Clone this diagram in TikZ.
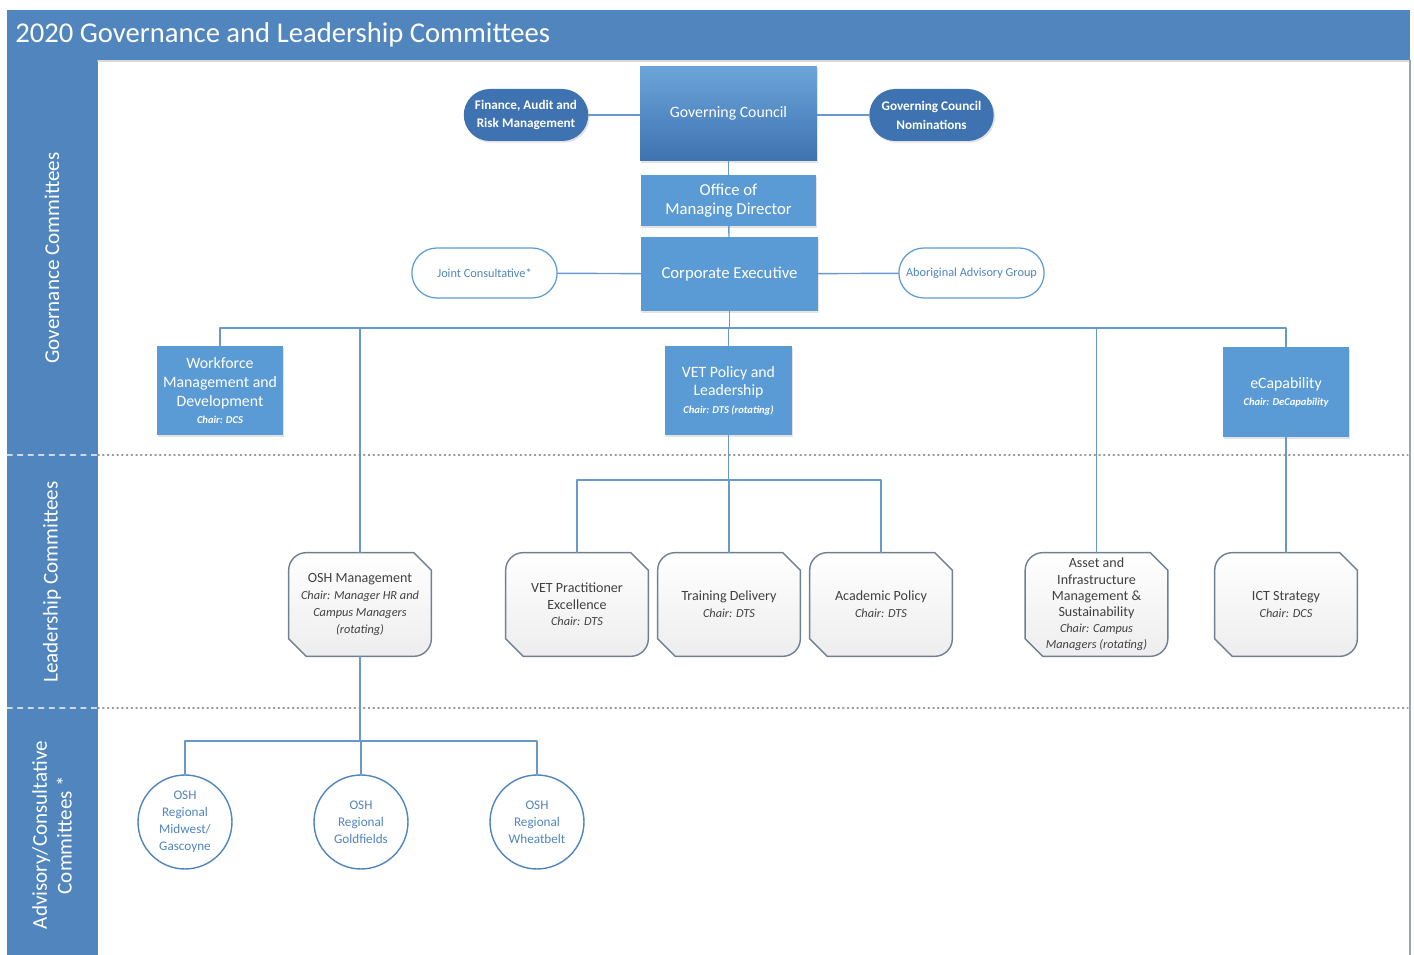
\documentclass[tikz,border=0pt]{standalone}
\usepackage{fontspec}
\setmainfont{Carlito}
\usetikzlibrary{shapes.misc,shadows,backgrounds}
\definecolor{band}{RGB}{80,133,190}
\definecolor{dkblue}{RGB}{62,114,176}
\definecolor{ltblue}{RGB}{91,155,213}
\definecolor{lnblue}{RGB}{104,152,204}
\definecolor{gbord}{RGB}{112,126,146}
\definecolor{gtext}{RGB}{64,64,64}
\newcommand\chair[1]{\\[-1pt]\fontsize{6}{8}\selectfont\bfseries\itshape Chair: #1}
\newcommand\lchair[1]{\\\fontsize{7}{9.5}\selectfont\itshape #1}
% outline of a leadership committee box: two round corners, two snipped ones
\newcommand\snipbox[1]{%
  \draw[gbord,line width=0.8pt,top color=white,bottom color=black!7]
    ([yshift=-10pt]#1.north west) .. controls ([yshift=-4.5pt]#1.north west)
      and ([xshift=4.5pt]#1.north west) .. ([xshift=10pt]#1.north west)
    -- ([xshift=-10pt]#1.north east) -- ([yshift=-10pt]#1.north east)
    -- ([yshift=10pt]#1.south east) .. controls ([yshift=4.5pt]#1.south east)
      and ([xshift=-4.5pt]#1.south east) .. ([xshift=-10pt]#1.south east)
    -- ([xshift=10pt]#1.south west) -- ([yshift=10pt]#1.south west) -- cycle;}
\begin{document}
\begin{tikzpicture}[x=0.02cm,y=-0.02cm,line join=round,line cap=round,
  link/.style={draw=lnblue,line width=0.8pt},
  box/.style={rectangle,fill=ltblue,text=white,align=center,inner sep=1pt,
    font=\fontsize{9}{10.8}\selectfont,
    drop shadow={opacity=0.22,shadow xshift=0.8pt,shadow yshift=-1pt}},
  pill/.style={rounded rectangle,fill=dkblue,text=white,align=center,
    minimum width=2.56cm,minimum height=1.04cm,inner sep=1pt,
    font=\fontsize{7.5}{10.8}\selectfont\bfseries,
    drop shadow={opacity=0.22,shadow xshift=0.8pt,shadow yshift=-1pt}},
  opill/.style={rounded rectangle,draw=ltblue,line width=0.7pt,fill=white,text=band,
    minimum width=3.14cm,minimum height=1cm,font=\fontsize{7}{8}\selectfont},
  lbox/.style={align=center,text=gtext,minimum width=2.84cm,minimum height=2.06cm,
    inner sep=1pt,font=\fontsize{8}{9.5}\selectfont},
  circ/.style={circle,draw=band,line width=0.8pt,fill=white,text=band,align=center,
    minimum size=1.88cm,inner sep=0pt,font=\fontsize{7.5}{9.6}\selectfont},
  sidelbl/.style={rotate=90,text=white,align=center,font=\fontsize{12}{14}\selectfont}]
\useasboundingbox (0,0) rectangle (1414,955);

% frame, title bar and side band
\fill[band] (7,10) rectangle (1410,60);
\fill[band] (7,60) rectangle (98,955);
\draw[black!15,line width=1pt] (98,61) -- (1410,61);
\draw[gbord!70,line width=0.6pt] (1410,60) -- (1410,955);
\node[anchor=west,text=white,inner sep=0pt,font=\fontsize{16.3}{19}\selectfont] (title)
  at (15,35) {2020 Governance and Leadership Committees};
\foreach \y in {455,708}{
  \draw[white!70!band,dashed,line width=0.6pt] (7,\y) -- (98,\y);
  \draw[black!40,dotted,line width=0.7pt] (98,\y) -- (1408,\y);
}
\node[sidelbl] (gov) at (52,258) {Governance Committees};
\node[sidelbl] (lead) at (52,582) {Leadership Committees};
\node[sidelbl] (adv) at (52,835) {Advisory/Consultative\\Committees *};

% governance level
\node[box,minimum width=3.54cm,minimum height=1.9cm,top color=ltblue!90!white,
  bottom color=dkblue] (gc) at (728.5,113.5) {Governing Council};
\node[pill] (fin) at (526,115) {Finance, Audit and\\Risk Management};
\node[pill] (gcn) at (931.5,115) {Governing Council\\Nominations};
\node[box,minimum width=3.5cm,minimum height=1.02cm,font=\fontsize{9.5}{11}\selectfont]
  (omd) at (728.5,200.5) {Office of\\Managing Director};
\node[box,minimum width=3.54cm,minimum height=1.48cm,font=\fontsize{9.5}{11}\selectfont]
  (ce) at (729.5,274) {Corporate Executive};
\node[opill] (jc) at (484.5,273) {Joint Consultative*};
\node[opill] (aag) at (971.5,273) {Aboriginal Advisory Group};

\node[box,minimum width=2.52cm,minimum height=1.78cm] (wmd) at (220,390.5)
  {Workforce\\Management and\\Development\chair{DCS}};
\node[box,minimum width=2.54cm,minimum height=1.78cm] (vpl) at (728.5,390.5)
  {VET Policy and\\Leadership\chair{DTS (rotating)}};
\node[box,minimum width=2.52cm,minimum height=1.8cm] (ecap) at (1286,392)
  {eCapability\chair{DeCapability}};

% leadership level
\node[lbox] (osh) at (360,604.5)
  {OSH Management\lchair{Chair: Manager HR and}\lchair{Campus Managers}\lchair{(rotating)}};
\node[lbox] (vpe) at (577,604.5) {VET Practitioner\\Excellence\lchair{Chair: DTS}};
\node[lbox] (td) at (729,604.5) {Training Delivery\lchair{Chair: DTS}};
\node[lbox] (ap) at (881,604.5) {Academic Policy\lchair{Chair: DTS}};
\node[lbox,font=\fontsize{8}{9.2}\selectfont] (aim) at (1096.5,604.5)
  {Asset and\\Infrastructure\\Management \&\\Sustainability\lchair{Chair: Campus}\lchair{Managers (rotating)}};
\node[lbox] (ict) at (1286,604.5) {ICT Strategy\lchair{Chair: DCS}};
\begin{scope}[on background layer]
  \foreach \n in {osh,vpe,td,ap,aim,ict} \snipbox{\n};
\end{scope}

% advisory level
\node[circ] (c1) at (185,822) {OSH\\Regional\\Midwest/\\Gascoyne};
\node[circ] (c2) at (361,822) {OSH\\Regional\\Goldfields};
\node[circ] (c3) at (537,822) {OSH\\Regional\\Wheatbelt};

% connectors
\coordinate (bus) at (0,328);
\coordinate (vbus) at (0,480);
\coordinate (obus) at (0,741);
\draw[link] (fin.east) -- (fin.east -| gc.west);
\draw[link] (gc.east |- gcn.west) -- (gcn.west);
\draw[link] (gc) -- (omd);
\draw[link] (omd) -- (ce);
\draw[link] (jc) -- (ce);
\draw[link] (ce) -- (aag);
\draw[link] (ce.south) -- (ce.south |- bus);
\draw[link] (wmd.north) -- (wmd.north |- bus) -- (ecap.north |- bus) -- (ecap.north);
\foreach \n in {osh,vpl,aim}
  \draw[link] (\n.north) -- (\n.north |- bus);
\draw[link] (vpl.south) -- (vpl.south |- vbus);
\draw[link] (vpe.north) -- (vpe.north |- vbus) -- (ap.north |- vbus) -- (ap.north);
\draw[link] (td.north) -- (td.north |- vbus);
\draw[link] (ecap.south) -- (ict.north);
\draw[link] (osh.south) -- (osh.south |- obus);
\draw[link] (c1.north) -- (c1.north |- obus) -- (c3.north |- obus) -- (c3.north);
\draw[link] (c2.north) -- (c2.north |- obus);
\end{tikzpicture}
\end{document}
